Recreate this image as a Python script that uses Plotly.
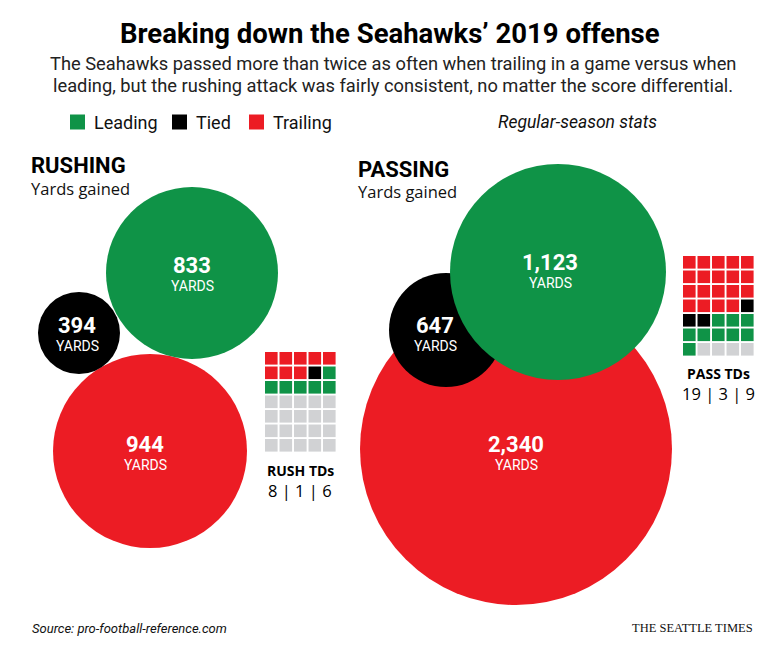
import plotly.graph_objects as go

# ---------------- data ----------------
categories = ["Leading", "Tied", "Trailing"]
rush_yards = [833, 394, 944]
pass_yards = [1123, 647, 2340]
rush_td_label = [8, 1, 6]      # shown as "8 | 1 | 6"
pass_td_label = [19, 3, 9]     # shown as "19 | 3 | 9"

title = "Breaking down the Seahawks’ 2019 offense"
subtitle = ["The Seahawks passed more than twice as often when trailing in a game versus when",
            "leading, but the rushing attack was fairly consistent, no matter the score differential."]
source = "Source: pro-football-reference.com"
credit = "THE SEATTLE TIMES"

# ---------------- styles / layout geometry ----------------
GREEN, BLACK, RED, GRAY = "#0f9347", "#000000", "#ec1c24", "#d1d2d4"
cat_color = {"Leading": GREEN, "Tied": BLACK, "Trailing": RED}
grid_order = [RED, BLACK, GREEN]   # fill order of the TD grids
COND = "Roboto, Lato, sans-serif"
BOLDC = "Roboto, Lato, sans-serif"

# bubble placement (pixel space): category -> (cx, cy, r, label_x, label_y)
rush_geom = {"Leading": (192, 273, 86, 192, 265),
             "Tied": (79, 333, 41, 77, 325),
             "Trailing": (150, 451, 97, 145, 444)}
pass_geom = {"Leading": (558, 272, 108, 550, 262),
             "Tied": (446, 330, 57, 435, 325),
             "Trailing": (516, 449, 156, 516, 444)}
draw_order = ["Trailing", "Tied", "Leading"]

fig = go.Figure()
ann = []

def bubbles(values, geom):
    vals = dict(zip(categories, values))
    for c in draw_order:
        cx, cy, r, lx, ly = geom[c]
        fig.add_trace(go.Scatter(x=[cx], y=[cy], mode="markers",
                                 marker=dict(size=2 * r, color=cat_color[c], line=dict(width=0)),
                                 hoverinfo="skip", showlegend=False))
        ann.append(dict(x=lx, y=ly, text=f"<b>{vals[c]:,}</b>", showarrow=False,
                        font=dict(family="Roboto, sans-serif", size=22, color="white"),
                        xanchor="center", yanchor="middle"))
        ann.append(dict(x=lx, y=ly + 21, text="YARDS", showarrow=False,
                        font=dict(family=COND, size=14, color="white"),
                        xanchor="center", yanchor="middle"))

bubbles(rush_yards, rush_geom)
bubbles(pass_yards, pass_geom)

def grid(counts, x0, y0, label, ly):
    colors = []
    for n, col in zip(counts, grid_order):
        colors += [col] * n
    colors += [GRAY] * (35 - len(colors))
    pitch, cell = 14.5, 12.6
    xs, ys = [], []
    for i in range(35):
        xs.append(x0 + cell / 2 + (i % 5) * pitch)
        ys.append(y0 + cell / 2 + (i // 5) * pitch)
    fig.add_trace(go.Scatter(x=xs, y=ys, mode="markers",
                             marker=dict(symbol="square", size=cell, color=colors, line=dict(width=0)),
                             hoverinfo="skip", showlegend=False))
    cxm = x0 + (4 * pitch + cell) / 2
    ann.append(dict(x=cxm, y=ly, text=f"<b>{label}</b>", showarrow=False,
                    font=dict(family="Open Sans, sans-serif", size=14, color="black"),
                    xanchor="center", yanchor="middle"))
    ann.append(dict(x=cxm, y=ly + 20, text=" | ".join(str(v) for v in counts), showarrow=False,
                    font=dict(family="Open Sans, sans-serif", size=16.5, color="black"),
                    xanchor="center", yanchor="middle"))

grid(rush_td_label, 265, 352, "RUSH TDs", 470)
grid(pass_td_label, 683, 256, "PASS TDs", 373)

# legend squares
leg_x = [70, 172, 249]
fig.add_trace(go.Scatter(x=[x + 7.5 for x in leg_x], y=[122] * 3, mode="markers",
                         marker=dict(symbol="square", size=15, color=[cat_color[c] for c in categories]),
                         hoverinfo="skip", showlegend=False))
for x, c in zip(leg_x, categories):
    ann.append(dict(x=x + 22, y=122, text=c, showarrow=False, xanchor="left", yanchor="middle",
                    font=dict(family=COND, size=18, color="#111")))

ann += [
    dict(x=390, y=33, text=f"<b>{title}</b>", showarrow=False, xanchor="center", yanchor="middle",
         font=dict(family=BOLDC, size=27.5, color="black")),
    dict(x=393, y=63, text=subtitle[0], showarrow=False, xanchor="center", yanchor="middle",
         font=dict(family=COND, size=18.3, color="#222")),
    dict(x=393, y=85, text=subtitle[1], showarrow=False, xanchor="center", yanchor="middle",
         font=dict(family=COND, size=18.3, color="#222")),
    dict(x=577, y=122, text="<i>Regular-season stats</i>", showarrow=False, xanchor="center", yanchor="middle",
         font=dict(family=COND, size=17.5, color="#111")),
    dict(x=29, y=165, text="<b>RUSHING</b>", showarrow=False, xanchor="left", yanchor="middle",
         font=dict(family=BOLDC, size=22, color="black")),
    dict(x=29, y=188, text="Yards gained", showarrow=False, xanchor="left", yanchor="middle",
         font=dict(family="Open Sans, sans-serif", size=16.5, color="#111")),
    dict(x=356, y=169, text="<b>PASSING</b>", showarrow=False, xanchor="left", yanchor="middle",
         font=dict(family=BOLDC, size=22, color="black")),
    dict(x=356, y=191, text="Yards gained", showarrow=False, xanchor="left", yanchor="middle",
         font=dict(family="Open Sans, sans-serif", size=16.5, color="#111")),
    dict(x=30, y=628, text=f"<i>{source}</i>", showarrow=False, xanchor="left", yanchor="middle",
         font=dict(family=COND, size=13, color="#111")),
    dict(x=755, y=628, text=credit, showarrow=False, xanchor="right", yanchor="middle",
         font=dict(family="Liberation Serif, DejaVu Serif, serif", size=12.5, color="#111")),
]

# page body has an 8px margin: map page pixels directly onto the axes
fig.update_layout(width=772, height=650, margin=dict(l=0, r=0, t=0, b=0),
                  paper_bgcolor="white", plot_bgcolor="white", annotations=ann,
                  xaxis=dict(range=[8, 780], visible=False, fixedrange=True),
                  yaxis=dict(range=[658, 8], visible=False, fixedrange=True))
fig.write_html("out.html")
